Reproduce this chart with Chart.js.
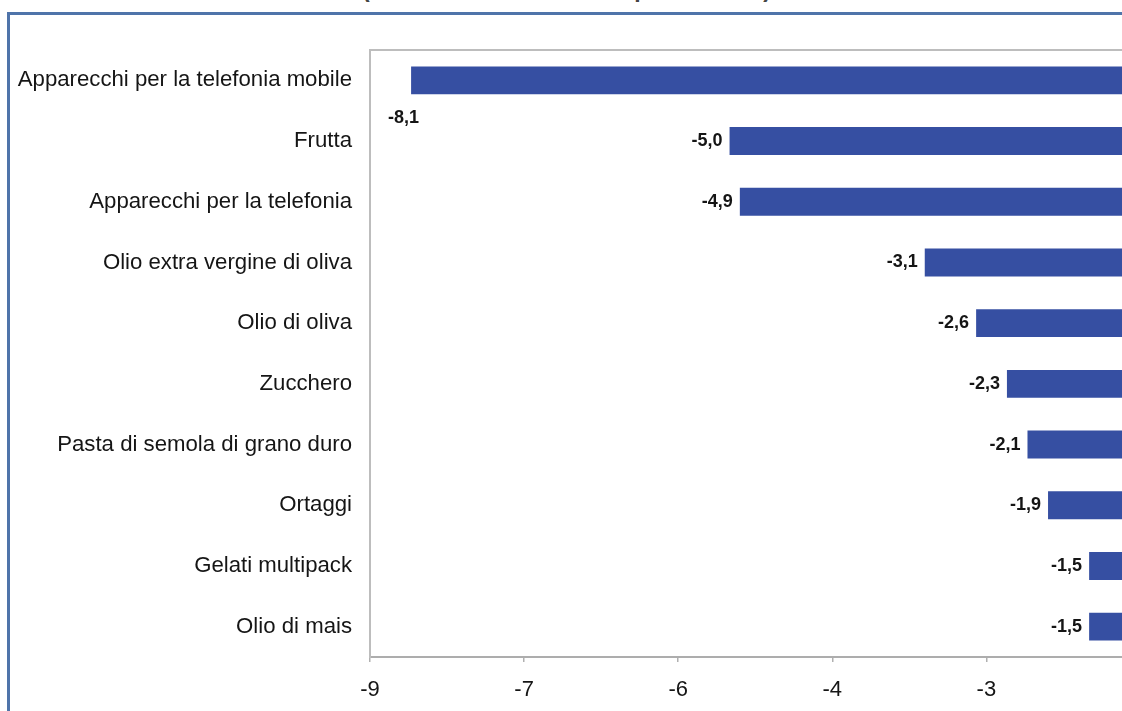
<!DOCTYPE html>
<html>
<head>
<meta charset="utf-8">
<script src="https://cdn.jsdelivr.net/npm/chart.js@4.4.1/dist/chart.umd.min.js"></script>
<style>
  html, body { margin: 0; padding: 0; background: #ffffff; overflow: hidden; }
  #wrap { position: relative; width: 1122px; height: 711px; overflow: hidden; }
  #frame { position: absolute; left: 7px; top: 12px; right: -10px; bottom: -10px;
           border-top: 3px solid #4f74aa; border-left: 3px solid #4f74aa; }
  #title { position: absolute; left: 362px; top: -22.5px; white-space: nowrap;
           font: bold 23px "Liberation Sans", Arial, sans-serif; line-height: 23px; color: #444; }
  #chartBox { position: absolute; left: 0; top: 0; width: 1122px; height: 711px; }
</style>
</head>
<body>
<div id="wrap">
  <div id="frame"></div>
  <div id="title">(variazioni tendenziali in percentuale)</div>
  <div id="chartBox"><canvas id="c"></canvas></div>
</div>
<script>
const categories = [
  "Apparecchi per la telefonia mobile",
  "Frutta",
  "Apparecchi per la telefonia",
  "Olio extra vergine di oliva",
  "Olio di oliva",
  "Zucchero",
  "Pasta di semola di grano duro",
  "Ortaggi",
  "Gelati multipack",
  "Olio di mais"
];
const values = [-8.1, -5.0, -4.9, -3.1, -2.6, -2.3, -2.1, -1.9, -1.5, -1.5];
const tickValues = [-8.5, -7, -5.5, -4, -2.5];
const tickLabels = ["-9", "-7", "-6", "-4", "-3"];
const axisMin = -8.5;
const axisMaxVisible = -1.18;

const fmt = v => v.toFixed(1).replace('.', ',');

const valueLabels = {
  id: 'valueLabels',
  afterDatasetsDraw(chart) {
    const ctx = chart.ctx;
    const meta = chart.getDatasetMeta(0);
    ctx.save();
    ctx.font = 'bold 18px "Liberation Sans", Arial, sans-serif';
    ctx.fillStyle = '#151515';
    ctx.textBaseline = 'middle';
    ctx.textAlign = 'right';
    meta.data.forEach((bar, i) => {
      const txt = fmt(values[i]);
      const w = ctx.measureText(txt).width;
      let x = bar.x - 7, y = bar.y;
      if (x - w < chart.chartArea.left + 4) { x = bar.x + 8; y = bar.y + 38; }
      ctx.fillText(txt, x, y);
    });
    ctx.restore();
  }
};

new Chart(document.getElementById('c'), {
  type: 'bar',
  data: {
    labels: categories,
    datasets: [{
      data: values,
      backgroundColor: '#364fa2',
      borderWidth: 0,
      categoryPercentage: 1,
      barPercentage: 0.46
    }]
  },
  options: {
    indexAxis: 'y',
    responsive: true,
    maintainAspectRatio: false,
    animation: false,
    layout: { padding: { top: 50, right: 0, bottom: 0, left: 0 } },
    plugins: { legend: { display: false }, tooltip: { enabled: false }, title: { display: false } },
    scales: {
      x: {
        position: 'bottom',
        min: axisMin,
        max: axisMaxVisible,
        afterBuildTicks: s => { s.ticks = tickValues.map(v => ({ value: v })); },
        afterFit: s => { s.height = 54; },
        ticks: {
          callback: (v, i) => tickLabels[i],
          font: { family: '"Liberation Sans", Arial, sans-serif', size: 22 },
          color: '#151515',
          padding: 15,
          maxRotation: 0,
          autoSkip: false
        },
        grid: { display: true, drawOnChartArea: false, drawTicks: true, tickLength: 5, color: '#b0b0b0', lineWidth: 1.5 },
        border: { display: true, color: '#adadad', width: 2 }
      },
      x2: {
        position: 'top',
        axis: 'x',
        min: axisMin,
        max: axisMaxVisible,
        ticks: { display: false },
        grid: { display: false },
        afterFit: s => { s.height = 0; },
        border: { display: true, color: '#bdbdbd', width: 2 }
      },
      y: {
        afterFit: s => { s.width = 370; },
        ticks: {
          font: { family: '"Liberation Sans", Arial, sans-serif', size: 22.2 },
          color: '#151515',
          padding: 18,
          autoSkip: false
        },
        grid: { display: false, drawTicks: false },
        border: { display: true, color: '#bdbdbd', width: 2 }
      }
    }
  },
  plugins: [valueLabels]
});
</script>
</body>
</html>
